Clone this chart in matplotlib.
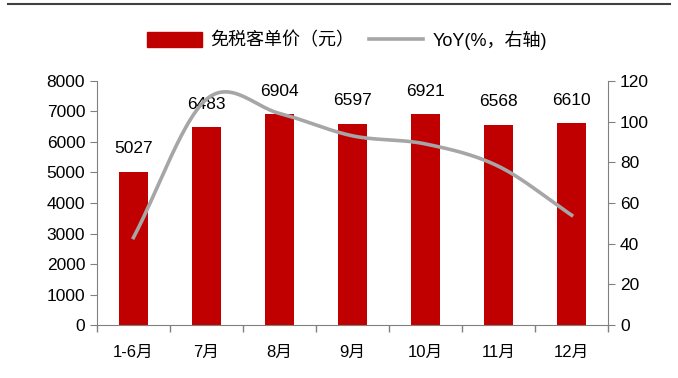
import numpy as np
import matplotlib.pyplot as plt
from matplotlib.lines import Line2D

plt.rcParams['font.family'] = ['Liberation Sans', 'Noto Sans CJK SC', 'DejaVu Sans']

months = ["1-6月", "7月", "8月", "9月", "10月", "11月", "12月"]
price = [5027, 6483, 6904, 6597, 6921, 6568, 6610]
yoy = [43, 111, 104, 93, 89, 78, 54]

red = "#C00000"
grey = "#A6A6A6"
axis_grey = "#808080"


def smooth(xs, ys, n=30):
    # Catmull-Rom curve through the points, like Excel's smoothed line
    xs = np.asarray(xs, float)
    ys = np.asarray(ys, float)
    px = np.concatenate([[2 * xs[0] - xs[1]], xs, [2 * xs[-1] - xs[-2]]])
    py = np.concatenate([[2 * ys[0] - ys[1]], ys, [2 * ys[-1] - ys[-2]]])
    out_x, out_y = [], []
    for i in range(1, len(px) - 2):
        t = np.linspace(0, 1, n)
        for p, out in ((px, out_x), (py, out_y)):
            p0, p1, p2, p3 = p[i - 1], p[i], p[i + 1], p[i + 2]
            out.extend(0.5 * (2 * p1 + (-p0 + p2) * t
                              + (2 * p0 - 5 * p1 + 4 * p2 - p3) * t ** 2
                              + (-p0 + 3 * p1 - 3 * p2 + p3) * t ** 3))
    return out_x, out_y


fig = plt.figure(figsize=(6.78, 3.78), dpi=100)
ax = fig.add_axes([0.143, 0.14, 0.754, 0.646])
x = np.arange(len(months))

ax.bar(x, price, width=0.4, color=red, zorder=2)
for xi, v in zip(x, price):
    ax.annotate(str(v), (xi, v), xytext=(0, 11), textcoords="offset points",
                ha="center", va="bottom", fontsize=12.5)

ax.set_xlim(-0.5, len(months) - 0.5)
ax.set_ylim(0, 8000)
ax.set_yticks(range(0, 8001, 1000))
ax.set_xticks(x)
ax.set_xticklabels(months, fontsize=12)
ax.set_xticks(np.arange(-0.5, len(months)), minor=True)
ax.tick_params(axis="x", which="major", length=0, pad=14)
ax.tick_params(axis="x", which="minor", length=5, color=axis_grey, width=1)
ax.tick_params(axis="y", length=5, color=axis_grey, labelsize=12.5)

ax2 = ax.twinx()
sx, sy = smooth(x, yoy)
ax2.plot(sx, sy, color=grey, lw=2.6, zorder=3)
ax2.set_ylim(0, 120)
ax2.set_yticks(range(0, 121, 20))
ax2.tick_params(axis="y", length=5, color=axis_grey, labelsize=12.5)

for a in (ax, ax2):
    a.spines["top"].set_visible(False)
    for s in ("left", "right", "bottom"):
        a.spines[s].set_color(axis_grey)
ax.spines["right"].set_visible(False)
ax2.spines["left"].set_visible(False)
ax2.spines["bottom"].set_visible(False)

handles = [plt.Rectangle((0, 0), 1, 1, color=red),
           Line2D([0], [0], color=grey, lw=2.6)]
fig.legend(handles, ["免税客单价（元）", "YoY(%，右轴)"], loc="center",
           bbox_to_anchor=(0.512, 0.894), ncol=2, frameon=False, fontsize=13,
           handlelength=3.0, handleheight=0.9, columnspacing=0.8,
           handletextpad=0.5)

fig.add_artist(Line2D([0.012, 0.988], [0.989, 0.989], color="#404040", lw=1.5))

fig.savefig("out.png", dpi=100)
